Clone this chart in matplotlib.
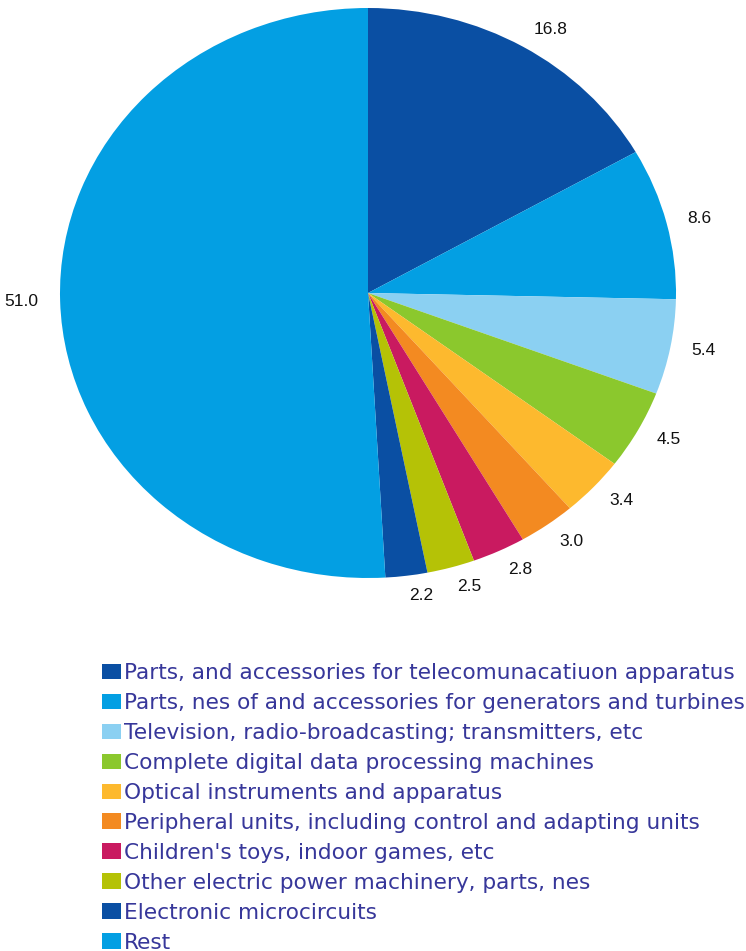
import matplotlib
matplotlib.use("Agg")
import matplotlib.pyplot as plt

plt.rcParams['font.family'] = ['Liberation Sans', 'DejaVu Sans']

# product groups and their shares (%)
categories = [
    "Parts, and accessories for telecomunacatiuon apparatus",
    "Parts, nes of and accessories for generators and turbines",
    "Television, radio-broadcasting; transmitters, etc",
    "Complete digital data processing machines",
    "Optical instruments and apparatus",
    "Peripheral units, including control and adapting units",
    "Children's toys, indoor games, etc",
    "Other electric power machinery, parts, nes",
    "Electronic microcircuits",
    "Rest",
]
shares = [16.8, 8.6, 5.4, 4.5, 3.4, 3.0, 2.8, 2.5, 2.2, 51.0]
colors = ['#0a4fa3', '#039fe3', '#8bd0f2', '#8bc82d', '#fdb92e',
          '#f38a21', '#c91a60', '#b5c206', '#0a4fa3', '#039fe3']

W, H = 746, 951
fig = plt.figure(figsize=(W / 100, H / 100), dpi=100)

# pie area (slightly wider than tall)
left, top, right, bottom = 60, 8, 676, 578
ax = fig.add_axes([left / W, 1 - bottom / H, (right - left) / W, (bottom - top) / H])

wedges, texts = ax.pie(
    shares,
    colors=colors,
    labels=[f"{v:.1f}" for v in shares],
    startangle=90,
    counterclock=False,
    labeldistance=1.07,
    wedgeprops=dict(linewidth=0),
    textprops=dict(family='Liberation Sans', fontsize=12.5, color='#111111'),
)
ax.set_aspect('auto')
ax.set_xlim(-1, 1)
ax.set_ylim(-1, 1)
ax.axis('off')

leg = fig.legend(
    wedges, categories,
    loc='upper left',
    bbox_to_anchor=(102 / W, 1 - 663 / H),
    frameon=False,
    borderpad=0,
    borderaxespad=0,
    prop=dict(family='DejaVu Sans', size=15.6),
    labelcolor='#37379a',
    handlelength=0.86,
    handleheight=0.73,
    handletextpad=0.15,
    labelspacing=0.46,
)

fig.savefig("out.png", dpi=100)
